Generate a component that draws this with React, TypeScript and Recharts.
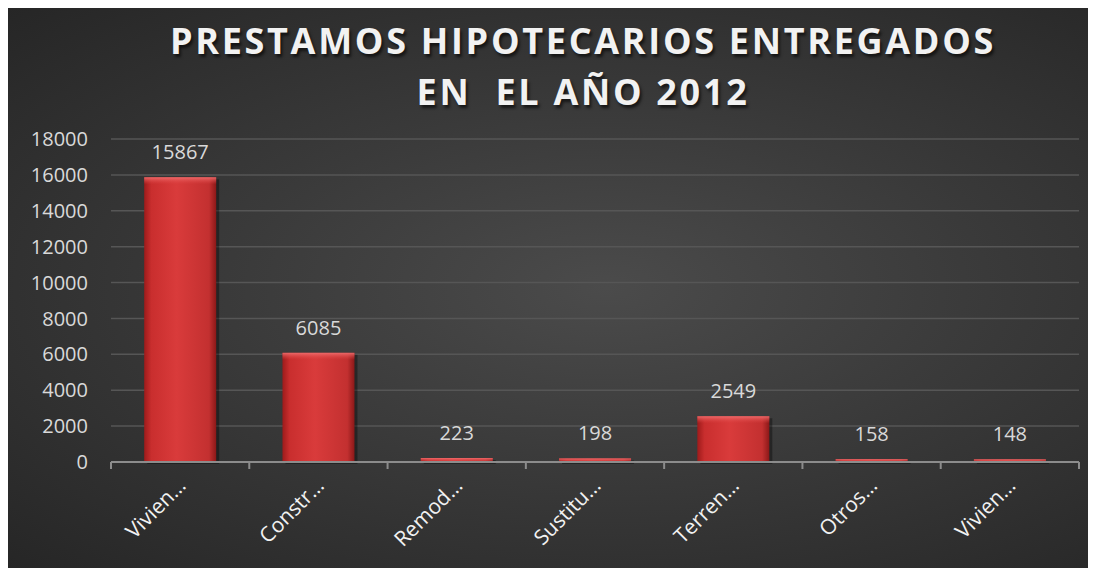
import { BarChart, Bar, XAxis, YAxis, CartesianGrid, LabelList } from 'recharts';

const categories = ['Vivien…', 'Constr…', 'Remod…', 'Sustitu…', 'Terren…', 'Otros…', 'Vivien…'];
const prestamos = [15867, 6085, 223, 198, 2549, 158, 148];
const yTicks = [0, 2000, 4000, 6000, 8000, 10000, 12000, 14000, 16000, 18000];

const data = categories.map((name, i) => ({ name, value: prestamos[i] }));

const FONT = '"Open Sans", "Noto Sans", sans-serif';
const AXIS = '#8c8c8c';

const RedBar = (props: any) => {
  const { x, y, width, height } = props;
  if (!height || height <= 0) return null;
  return (
    <g>
      <rect x={x + 3} y={y + 2} width={width} height={height} fill="rgba(0,0,0,0.35)" />
      <rect x={x} y={y} width={width} height={height} fill="url(#barGrad)" />
      <rect x={x} y={y} width={width} height={Math.min(7, height)} fill="url(#barTop)" />
    </g>
  );
};

// category label plus tick marks at the band edges
const CatTick = (props: any) => {
  const { x, y, payload, index, width, visibleTicksCount } = props;
  const band = Number(width) / Number(visibleTicksCount);
  const half = band / 2;
  return (
    <g>
      {isFinite(half) && (
        <line x1={x - half} x2={x - half} y1={y} y2={y + 7} stroke={AXIS} strokeWidth={2} />
      )}
      {isFinite(half) && index === visibleTicksCount - 1 && (
        <line x1={x + half} x2={x + half} y1={y} y2={y + 7} stroke={AXIS} strokeWidth={2} />
      )}
      <g transform={`translate(${x + 7},${y + 25})`}>
        <text
          x={0}
          y={0}
          textAnchor="end"
          transform="rotate(-45)"
          fill="#f2f2f2"
          fontSize={21}
          fontFamily={FONT}
        >
          {payload.value}
        </text>
      </g>
    </g>
  );
};

export default function App() {
  return (
    <div
      style={{
        position: 'relative',
        width: 1088,
        height: 560,
        background: 'radial-gradient(ellipse at 55% 50%, #4b4b4b 0%, #3a3a3a 45%, #262626 100%)',
      }}
    >
      <div
        style={{
          position: 'absolute',
          left: 75,
          top: 7,
          width: 1000,
          textAlign: 'center',
          fontFamily: FONT,
          fontWeight: 700,
          fontSize: 36,
          lineHeight: '51px',
          letterSpacing: 2.7,
          color: '#f2f2f2',
          textShadow: '2px 3px 3px rgba(0,0,0,0.6)',
          whiteSpace: 'pre',
        }}
      >
        {'PRESTAMOS HIPOTECARIOS ENTREGADOS\nEN  EL AÑO 2012'}
      </div>
      <BarChart
        width={1088}
        height={560}
        data={data}
        margin={{ top: 131, right: 17, bottom: 6, left: 0 }}
        barCategoryGap="24%"
        style={{ position: 'absolute', left: 0, top: 0 }}
      >
        <defs>
          <linearGradient id="barGrad" x1="0" y1="0" x2="1" y2="0">
            <stop offset="0%" stopColor="#9e1b1b" />
            <stop offset="10%" stopColor="#c92e2e" />
            <stop offset="45%" stopColor="#d93b3b" />
            <stop offset="90%" stopColor="#c33030" />
            <stop offset="100%" stopColor="#8c1818" />
          </linearGradient>
          <linearGradient id="barTop" x1="0" y1="0" x2="0" y2="1">
            <stop offset="0%" stopColor="#f07070" stopOpacity={0.9} />
            <stop offset="100%" stopColor="#e04545" stopOpacity={0} />
          </linearGradient>
        </defs>
        <CartesianGrid vertical={false} stroke="#565656" strokeWidth={1.5} />
        <XAxis
          dataKey="name"
          interval={0}
          axisLine={{ stroke: AXIS, strokeWidth: 2 }}
          tickLine={false}
          tickSize={0}
          tickMargin={0}
          height={100}
          tick={<CatTick />}
        />
        <YAxis
          domain={[0, 18000]}
          ticks={yTicks}
          width={103}
          axisLine={false}
          tickLine={false}
          tickSize={0}
          tickMargin={23}
          tick={{ fill: '#d9d9d9', fontSize: 20, fontFamily: FONT }}
        />
        <Bar dataKey="value" shape={<RedBar />} isAnimationActive={false}>
          <LabelList
            dataKey="value"
            position="top"
            offset={18}
            fill="#d9d9d9"
            fontSize={20}
            fontFamily={FONT}
          />
        </Bar>
      </BarChart>
    </div>
  );
}
